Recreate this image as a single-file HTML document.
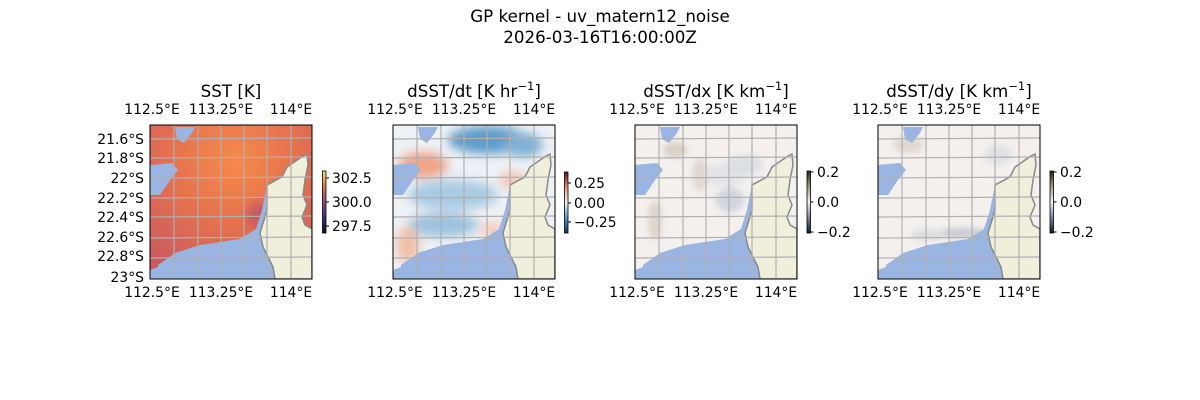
<!DOCTYPE html>
<html><head><meta charset="utf-8"><style>
html,body{margin:0;padding:0;background:#fff;}
svg{display:block;font-family:"DejaVu Sans","Liberation Sans",sans-serif;}
</style></head><body>
<svg width="1200" height="400" viewBox="0 0 1200 400" xmlns="http://www.w3.org/2000/svg">
<defs>
  <clipPath id="box"><rect x="0" y="0" width="162" height="154"/></clipPath>
  <filter id="bl" x="-50%" y="-50%" width="200%" height="200%"><feGaussianBlur stdDeviation="5"/></filter>
  <filter id="bl2" x="-50%" y="-50%" width="200%" height="200%"><feGaussianBlur stdDeviation="3"/></filter>
  <radialGradient id="sst" cx="85" cy="35" r="130" gradientUnits="userSpaceOnUse">
    <stop offset="0" stop-color="#f58a4a"/><stop offset="0.5" stop-color="#e5714f"/><stop offset="1" stop-color="#c85a60"/>
  </radialGradient>
  <linearGradient id="cb1" x1="0" y1="1" x2="0" y2="0">
    <stop offset="0" stop-color="#05152e"/><stop offset="0.25" stop-color="#3a2f7a"/><stop offset="0.5" stop-color="#9a4a7e"/><stop offset="0.75" stop-color="#e8744e"/><stop offset="1" stop-color="#f2e85a"/>
  </linearGradient>
  <linearGradient id="cb2" x1="0" y1="1" x2="0" y2="0">
    <stop offset="0" stop-color="#0a3a70"/><stop offset="0.25" stop-color="#5a9ccc"/><stop offset="0.5" stop-color="#f7f6f6"/><stop offset="0.75" stop-color="#eb9478"/><stop offset="1" stop-color="#6a0a20"/>
  </linearGradient>
  <linearGradient id="cb3" x1="0" y1="1" x2="0" y2="0">
    <stop offset="0" stop-color="#0a1a30"/><stop offset="0.25" stop-color="#7a8aa8"/><stop offset="0.5" stop-color="#f6f4f2"/><stop offset="0.75" stop-color="#a89a80"/><stop offset="1" stop-color="#2a2210"/>
  </linearGradient>
  <g id="ocean">
    <polygon points="8,154 8,140 25,128 50,120 90,114 106,104 112,85 117,60 130,52 140,42 150,32 140,154" fill="#9ab5e1"/>
    <polygon points="0,40 22,38 28,45 20,55 10,70 0,70" fill="#9ab5e1"/>
    <polygon points="25,2 45,2 42,8 34,18 27,14" fill="#9ab5e1"/>
    <polygon points="0,145 8,142 8,154 0,154" fill="#9ab5e1"/>
  </g>
  <g id="land">
    <polygon points="153,31 157,29 158,40 155,55 153,70 157,80 152,92 155,100 162,104 162,154 125,154 123,142 113,122 110,108 117,85 117,60 132,52 137,42" fill="#efefdb" stroke="#888" stroke-width="1.5"/>
  </g>
  <g id="grid" stroke="#b0b0b0" stroke-width="1.2" fill="none">
    <line x1="24" y1="0" x2="24" y2="154"/><line x1="48" y1="0" x2="48" y2="154"/><line x1="71" y1="0" x2="71" y2="154"/>
    <line x1="94" y1="0" x2="94" y2="154"/><line x1="117" y1="0" x2="117" y2="154"/><line x1="141" y1="0" x2="141" y2="154"/>
    <line x1="0" y1="14" x2="162" y2="13"/><line x1="0" y1="33" x2="162" y2="32"/><line x1="0" y1="53" x2="162" y2="52"/>
    <line x1="0" y1="73" x2="162" y2="72"/><line x1="0" y1="92" x2="162" y2="91"/><line x1="0" y1="113" x2="162" y2="112"/>
    <line x1="0" y1="133" x2="162" y2="132"/>
  </g>
  <g id="lonlab" font-size="13.9" text-anchor="middle" fill="#000">
    <text x="2" y="0">112.5°E</text><text x="71" y="0">113.25°E</text><text x="141" y="0">114°E</text>
  </g>
</defs>

<text x="600" y="22" font-size="16.7" text-anchor="middle">GP kernel - uv_matern12_noise</text>
<text x="600" y="43" font-size="16.7" text-anchor="middle">2026-03-16T16:00:00Z</text>

<!-- Panel 1 -->
<g transform="translate(150,125)">
  <g clip-path="url(#box)">
    <rect width="162" height="154" fill="url(#sst)"/>
    <ellipse cx="115" cy="90" rx="20" ry="14" fill="#b04c70" opacity="0.6" filter="url(#bl)"/>
    <use href="#ocean"/><use href="#land"/><use href="#grid"/>
  </g>
  <rect width="162" height="154" fill="none" stroke="#000" stroke-width="1"/>
</g>
<text x="231" y="97" font-size="16.7" text-anchor="middle">SST [K]</text>
<use href="#lonlab" transform="translate(150,114)"/>
<use href="#lonlab" transform="translate(150,297)"/>
<g font-size="13.9" text-anchor="end">
  <text x="144" y="144">21.6°S</text><text x="144" y="163">21.8°S</text><text x="144" y="183">22°S</text>
  <text x="144" y="203">22.2°S</text><text x="144" y="222">22.4°S</text><text x="144" y="242">22.6°S</text>
  <text x="144" y="261">22.8°S</text><text x="144" y="282">23°S</text>
</g>
<rect x="322.5" y="171" width="3.5" height="62" fill="url(#cb1)" stroke="#000" stroke-width="0.8"/>
<g stroke="#000"><line x1="326" y1="178" x2="329" y2="178"/><line x1="326" y1="202" x2="329" y2="202"/><line x1="326" y1="226" x2="329" y2="226"/></g>
<g font-size="13.9"><text x="332" y="183">302.5</text><text x="332" y="207">300.0</text><text x="332" y="231">297.5</text></g>

<!-- Panel 2 -->
<g transform="translate(393,125)">
  <g clip-path="url(#box)">
    <rect width="162" height="154" fill="#eef1f6"/>
    <g filter="url(#bl)">
      <ellipse cx="95" cy="15" rx="40" ry="14" fill="#5f9dcc"/>
      <ellipse cx="130" cy="20" rx="20" ry="12" fill="#7fb0d6"/>
      <ellipse cx="60" cy="70" rx="45" ry="15" fill="#a9cbe3"/>
      <ellipse cx="50" cy="100" rx="35" ry="12" fill="#9cc3df"/>
      <ellipse cx="30" cy="40" rx="25" ry="13" fill="#f0a488"/>
      <ellipse cx="120" cy="55" rx="14" ry="8" fill="#f5c3b0"/>
      <ellipse cx="15" cy="120" rx="12" ry="18" fill="#f3c0a8"/>
      <ellipse cx="100" cy="105" rx="14" ry="8" fill="#f5cdbd"/>
    </g>
    <use href="#ocean"/><use href="#land"/><use href="#grid"/>
  </g>
  <rect width="162" height="154" fill="none" stroke="#000" stroke-width="1"/>
</g>
<text x="474" y="97" font-size="16.7" text-anchor="middle">dSST/dt [K hr<tspan font-size="11.5" dy="-7">−1</tspan><tspan dy="7">]</tspan></text>
<use href="#lonlab" transform="translate(393,114)"/>
<use href="#lonlab" transform="translate(393,297)"/>
<rect x="564.5" y="172" width="3.5" height="61" fill="url(#cb2)" stroke="#000" stroke-width="0.8"/>
<g stroke="#000"><line x1="568" y1="183" x2="571" y2="183"/><line x1="568" y1="203" x2="571" y2="203"/><line x1="568" y1="222" x2="571" y2="222"/></g>
<g font-size="13.9"><text x="574" y="188">0.25</text><text x="574" y="208">0.00</text><text x="574" y="227">−0.25</text></g>

<!-- Panel 3 -->
<g transform="translate(635,125)">
  <g clip-path="url(#box)">
    <rect width="162" height="154" fill="#f3f0ee"/>
    <g filter="url(#bl2)" opacity="0.7">
      <ellipse cx="40" cy="25" rx="12" ry="8" fill="#cfc4b4"/>
      <ellipse cx="20" cy="95" rx="7" ry="20" fill="#d4cabb"/>
      <ellipse cx="65" cy="50" rx="8" ry="16" fill="#d8cfc2"/>
      <ellipse cx="90" cy="50" rx="20" ry="12" fill="#dde0e6"/>
      <ellipse cx="110" cy="40" rx="18" ry="10" fill="#d3d8e0"/>
      <ellipse cx="95" cy="75" rx="14" ry="12" fill="#c3cad6"/>
    </g>
    <use href="#ocean"/><use href="#land"/><use href="#grid"/>
  </g>
  <rect width="162" height="154" fill="none" stroke="#000" stroke-width="1"/>
</g>
<text x="716" y="97" font-size="16.7" text-anchor="middle">dSST/dx [K km<tspan font-size="11.5" dy="-7">−1</tspan><tspan dy="7">]</tspan></text>
<use href="#lonlab" transform="translate(635,114)"/>
<use href="#lonlab" transform="translate(635,297)"/>
<rect x="807" y="171" width="3.5" height="62" fill="url(#cb3)" stroke="#000" stroke-width="0.8"/>
<g stroke="#000"><line x1="810.5" y1="172" x2="813.5" y2="172"/><line x1="810.5" y1="202" x2="813.5" y2="202"/><line x1="810.5" y1="232" x2="813.5" y2="232"/></g>
<g font-size="13.9"><text x="817" y="177">0.2</text><text x="817" y="207">0.0</text><text x="817" y="237">−0.2</text></g>

<!-- Panel 4 -->
<g transform="translate(878,125)">
  <g clip-path="url(#box)">
    <rect width="162" height="154" fill="#f3f0ee"/>
    <g filter="url(#bl2)" opacity="0.7">
      <ellipse cx="30" cy="20" rx="15" ry="8" fill="#d8cfc2"/>
      <ellipse cx="120" cy="30" rx="14" ry="10" fill="#d8dbe2"/>
      <ellipse cx="85" cy="108" rx="25" ry="5" fill="#b8bcc4"/>
      <ellipse cx="50" cy="110" rx="18" ry="5" fill="#d0d2d8"/>
    </g>
    <use href="#ocean"/><use href="#land"/><use href="#grid"/>
  </g>
  <rect width="162" height="154" fill="none" stroke="#000" stroke-width="1"/>
</g>
<text x="959" y="97" font-size="16.7" text-anchor="middle">dSST/dy [K km<tspan font-size="11.5" dy="-7">−1</tspan><tspan dy="7">]</tspan></text>
<use href="#lonlab" transform="translate(878,114)"/>
<use href="#lonlab" transform="translate(878,297)"/>
<rect x="1050" y="171" width="3.5" height="62" fill="url(#cb3)" stroke="#000" stroke-width="0.8"/>
<g stroke="#000"><line x1="1053.5" y1="172" x2="1056.5" y2="172"/><line x1="1053.5" y1="202" x2="1056.5" y2="202"/><line x1="1053.5" y1="232" x2="1056.5" y2="232"/></g>
<g font-size="13.9"><text x="1060" y="177">0.2</text><text x="1060" y="207">0.0</text><text x="1060" y="237">−0.2</text></g>
</svg>
</body></html>
